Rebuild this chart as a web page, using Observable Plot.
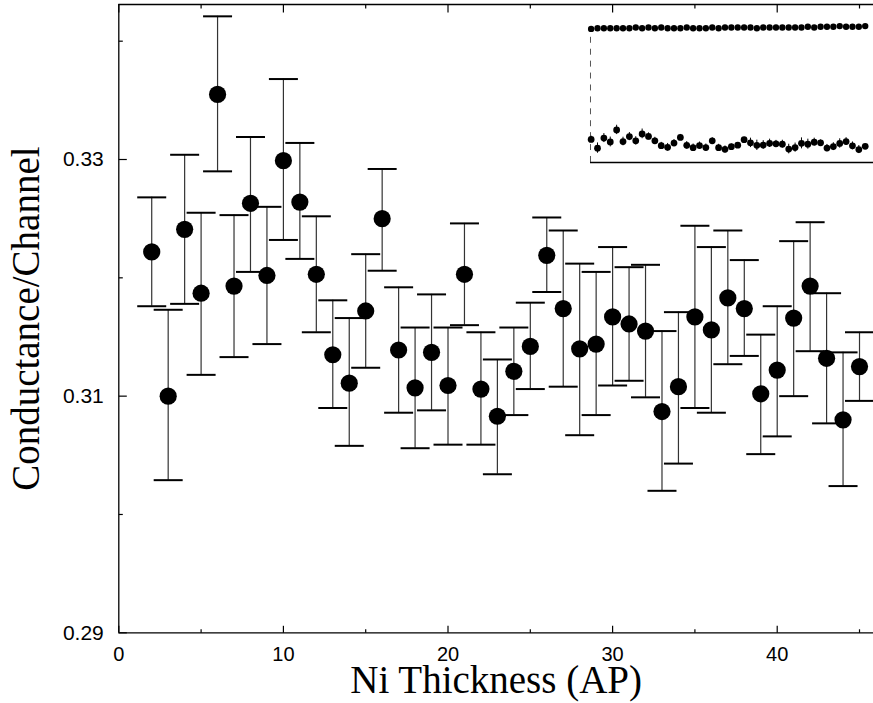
<!DOCTYPE html>
<html><head><meta charset="utf-8">
<script src="https://cdn.jsdelivr.net/npm/d3@7"></script>
<script src="https://cdn.jsdelivr.net/npm/@observablehq/plot@0.6"></script>
<style>
body{margin:0;background:#fff;}
#wrap{position:relative;width:873px;height:703px;overflow:hidden;background:#fff;}
#main{position:absolute;left:0;top:0;}
#inset{position:absolute;left:590px;top:12px;}
#main svg [aria-label="x-axis tick label"] text{font-size:20px;}
#main svg [aria-label="y-axis tick label"] text{font-size:21px;}
</style></head><body>
<div id="wrap"><div id="main"></div><div id="inset"></div></div>
<script>
// Ni thickness (atomic planes)
const thickness = [2,3,4,5,6,7,8,9,10,11,12,13,14,15,16,17,18,19,20,21,22,23,24,25,26,27,28,29,30,31,32,33,34,35,36,37,38,39,40,41,42,43,44,45];
// Conductance per channel
const conductance = [0.3222,0.3100,0.3241,0.3187,0.3355,0.3193,0.3263,0.3202,0.3299,0.3264,0.3203,0.3135,0.3111,0.3172,0.3250,0.3139,0.3107,0.3137,0.3109,0.3203,0.3106,0.3083,0.3121,0.3142,0.3219,0.3174,0.3140,0.3144,0.3167,0.3161,0.3155,0.3087,0.3108,0.3167,0.3156,0.3183,0.3174,0.3102,0.3122,0.3166,0.3193,0.3132,0.3080,0.3125];
// Error bar upper ends
const upper = [0.3268,0.3173,0.3304,0.3255,0.3421,0.3253,0.3319,0.3260,0.3368,0.3314,0.3252,0.3181,0.3166,0.3220,0.3292,0.3192,0.3158,0.3186,0.3158,0.3246,0.3154,0.3131,0.3158,0.3179,0.3251,0.3240,0.3212,0.3205,0.3226,0.3209,0.3211,0.3155,0.3171,0.3244,0.3226,0.3240,0.3215,0.3152,0.3176,0.3231,0.3247,0.3187,0.3137,0.3154];
// Error bar lower ends
const lower = [0.3176,0.3029,0.3178,0.3118,0.3290,0.3133,0.3205,0.3144,0.3232,0.3216,0.3154,0.3090,0.3058,0.3124,0.3206,0.3086,0.3056,0.3088,0.3059,0.3160,0.3059,0.3034,0.3084,0.3106,0.3188,0.3108,0.3067,0.3084,0.3109,0.3113,0.3099,0.3020,0.3043,0.3090,0.3086,0.3127,0.3134,0.3051,0.3066,0.3100,0.3138,0.3077,0.3024,0.3096];
// Inset: upper row of points
const insetUpper = [0.477,0.478,0.478,0.478,0.478,0.478,0.478,0.479,0.478,0.479,0.478,0.479,0.478,0.478,0.478,0.479,0.478,0.478,0.478,0.479,0.478,0.479,0.479,0.479,0.479,0.479,0.478,0.479,0.479,0.479,0.479,0.479,0.479,0.479,0.480,0.479,0.480,0.480,0.480,0.481,0.480,0.480,0.480,0.481];
// Axis ticks
const xMajor = [0,10,20,30,40];
const xMinor = [5,15,25,35,45];
const yMajor = [0.29,0.31,0.33];
const yMinor = [0.30,0.32,0.34];
const xTitle = "Ni Thickness (AP)";
const yTitle = "Conductance/Channel";

const data = thickness.map((x,i)=>({x, g: conductance[i], lo: lower[i], hi: upper[i], up: insetUpper[i]}));

const len = s => Math.sqrt(s/Math.PI);
const capSym = {draw(c,s){const w=len(s); c.moveTo(-w,0); c.lineTo(w,0);}};
const tickRight = {draw(c,s){const w=len(s); c.moveTo(0,0); c.lineTo(w,0);}};
const tickUp = {draw(c,s){const w=len(s); c.moveTo(0,0); c.lineTo(0,-w);}};
const tickDown = {draw(c,s){const w=len(s); c.moveTo(0,0); c.lineTo(0,w);}};

const yTop = 0.3431;
const sans = "'Liberation Sans', Arial, Helvetica, sans-serif";
const serif = "'Liberation Serif', 'Times New Roman', serif";

const main = Plot.plot({
  width: 873, height: 703,
  marginLeft: 118.3, marginRight: 0, marginTop: 4, marginBottom: 70.7,
  style: {background: "transparent", overflow: "visible", fontFamily: sans, fontSize: "20px", color: "black"},
  x: {domain: [0, 45.85], label: null},
  y: {domain: [0.29, yTop], label: null},
  marks: [
    Plot.axisX(xMajor, {tickSize: 0, tickPadding: 14, fontSize: 20, label: null, tickFormat: d3.format("d")}),
    Plot.axisY(yMajor, {tickSize: 0, tickPadding: 15, fontSize: 21, label: null, tickFormat: d3.format(".2f")}),
    Plot.ruleX([0], {strokeWidth: 1.3}),
    Plot.ruleY([0.29], {strokeWidth: 1.3}),
    Plot.ruleY([yTop], {strokeWidth: 1.3}),
    Plot.dot(yMajor, {y: d=>d, frameAnchor: "left", symbol: tickRight, r: 8, stroke: "black", fill: "none", strokeWidth: 1.2}),
    Plot.dot(yMinor, {y: d=>d, frameAnchor: "left", symbol: tickRight, r: 4, stroke: "black", fill: "none", strokeWidth: 1.2}),
    Plot.dot(xMajor, {x: d=>d, frameAnchor: "bottom", symbol: tickUp, r: 7, stroke: "black", fill: "none", strokeWidth: 1.2}),
    Plot.dot(xMinor, {x: d=>d, frameAnchor: "bottom", symbol: tickUp, r: 3.5, stroke: "black", fill: "none", strokeWidth: 1.2}),
    Plot.dot(xMajor, {x: d=>d, frameAnchor: "top", symbol: tickDown, r: 8, stroke: "black", fill: "none", strokeWidth: 1.2}),
    Plot.dot(xMinor, {x: d=>d, frameAnchor: "top", symbol: tickDown, r: 4, stroke: "black", fill: "none", strokeWidth: 1.2}),
    Plot.ruleX(data, {x: "x", y1: "lo", y2: "hi", stroke: "#333", strokeWidth: 1.2}),
    Plot.dot(data, {x: "x", y: "hi", symbol: capSym, r: 14.5, stroke: "black", fill: "none", strokeWidth: 2}),
    Plot.dot(data, {x: "x", y: "lo", symbol: capSym, r: 14.5, stroke: "black", fill: "none", strokeWidth: 2}),
    Plot.dot(data, {x: "x", y: "g", r: 8.6, fill: "black", stroke: "none"}),
    Plot.text([xTitle], {frameAnchor: "bottom", dy: 47.7, fontSize: 39, fontFamily: serif, textAnchor: "middle", lineAnchor: "middle", fill: "black"}),
    Plot.text([yTitle], {frameAnchor: "left", dx: -92.3, rotate: -90, fontSize: 39, fontFamily: serif, textAnchor: "middle", lineAnchor: "middle", fill: "black"})
  ]
});
document.getElementById("main").append(main);

const inset = Plot.plot({
  width: 285, height: 151, margin: 0,
  style: {background: "transparent", overflow: "visible"},
  x: {domain: [1.9, 46.3], axis: null},
  y: {domain: [0.29, 0.50], axis: null},
  marks: [
    Plot.ruleX([1.9], {y1: 0.29, y2: 0.47, stroke: "#555", strokeDasharray: "6,6", strokeWidth: 1}),
    Plot.ruleY([0.29], {strokeWidth: 1.5}),
    Plot.ruleX(data, {x: "x", y1: "lo", y2: "hi", stroke: "black", strokeWidth: 1}),
    Plot.dot(data, {x: "x", y: "g", r: 3.4, fill: "black", stroke: "none"}),
    Plot.dot(data, {x: "x", y: "up", r: 3.2, fill: "black", stroke: "none"})
  ]
});
document.getElementById("inset").append(inset);
</script>
</body></html>
